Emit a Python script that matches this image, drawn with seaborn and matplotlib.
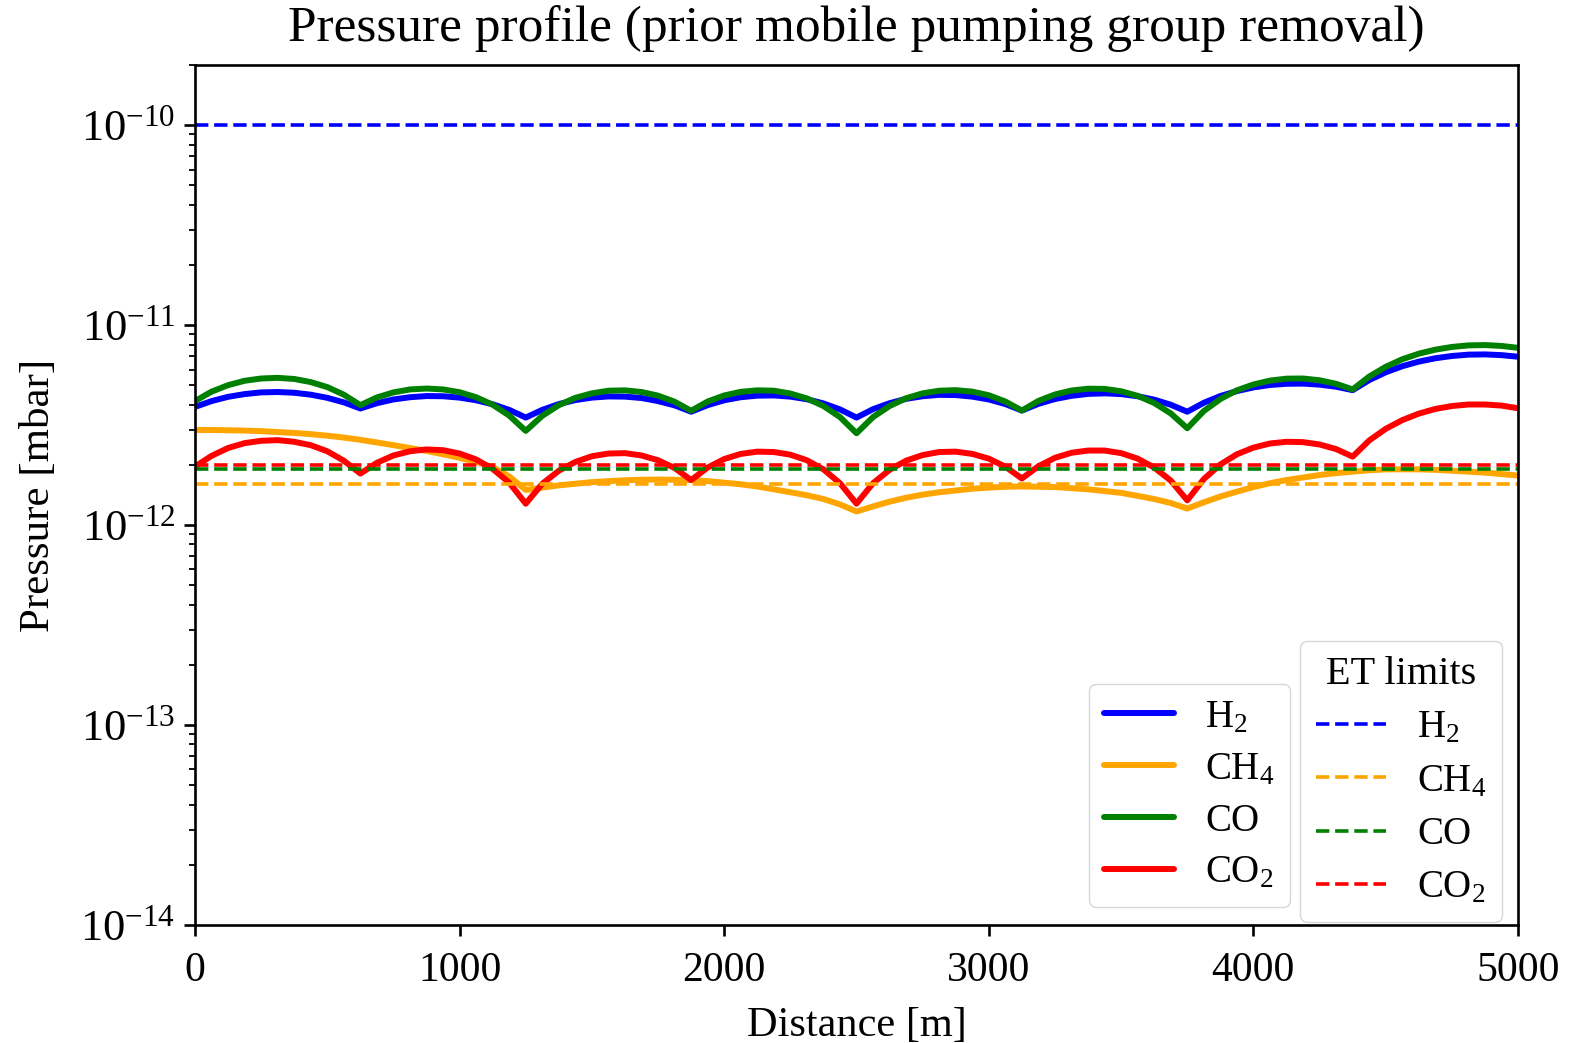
import numpy as np
import pandas as pd
import matplotlib
matplotlib.use("Agg")
import matplotlib.pyplot as plt
import seaborn as sns

# sampled every 62.5 m, pressures in units of 1e-12 mbar
distance = np.arange(0, 5000.1, 62.5)

h2 = [3.90, 4.17, 4.38, 4.52, 4.61, 4.63, 4.59, 4.49, 4.33, 4.11, 3.83,
      4.07, 4.25, 4.36, 4.42, 4.41, 4.34, 4.21, 4.02, 3.77, 3.45,
      3.77, 4.03, 4.22, 4.34, 4.40, 4.39, 4.32, 4.17, 3.97, 3.69,
      3.98, 4.21, 4.36, 4.44, 4.45, 4.39, 4.26, 4.06, 3.79, 3.45,
      3.80, 4.07, 4.28, 4.41, 4.48, 4.47, 4.39, 4.25, 4.03, 3.74,
      4.04, 4.27, 4.43, 4.53, 4.56, 4.52, 4.41, 4.24, 4.00, 3.69,
      4.09, 4.42, 4.68, 4.88, 5.02, 5.09, 5.10, 5.04, 4.92, 4.73,
      5.31, 5.81, 6.23, 6.57, 6.83, 7.01, 7.12, 7.14, 7.08, 6.95]

ch4 = [2.99, 2.99, 2.98, 2.97, 2.95, 2.92, 2.89, 2.85, 2.80, 2.74, 2.67,
       2.59, 2.51, 2.43, 2.35, 2.26, 2.17, 2.07, 1.95, 1.75, 1.50,
       1.54, 1.58, 1.61, 1.64, 1.66, 1.675, 1.685, 1.69, 1.685, 1.68,
       1.66, 1.63, 1.60, 1.56, 1.51, 1.46, 1.41, 1.35, 1.27, 1.17,
       1.24, 1.31, 1.37, 1.42, 1.46, 1.49, 1.52, 1.54, 1.555, 1.56,
       1.555, 1.55, 1.53, 1.51, 1.48, 1.45, 1.40, 1.35, 1.29, 1.21,
       1.30, 1.39, 1.47, 1.55, 1.62, 1.68, 1.73, 1.78, 1.82, 1.85,
       1.88, 1.90, 1.90, 1.90, 1.89, 1.87, 1.85, 1.83, 1.80, 1.77]

co = [4.17, 4.65, 5.01, 5.27, 5.41, 5.45, 5.38, 5.19, 4.90, 4.49, 3.98,
      4.35, 4.61, 4.77, 4.82, 4.77, 4.62, 4.36, 4.00, 3.53, 2.96,
      3.52, 3.98, 4.33, 4.56, 4.70, 4.72, 4.63, 4.44, 4.14, 3.73,
      4.15, 4.45, 4.64, 4.72, 4.70, 4.55, 4.30, 3.94, 3.47, 2.88,
      3.47, 3.94, 4.31, 4.56, 4.70, 4.73, 4.65, 4.46, 4.15, 3.74,
      4.18, 4.50, 4.71, 4.81, 4.80, 4.67, 4.43, 4.08, 3.62, 3.05,
      3.72, 4.27, 4.72, 5.05, 5.28, 5.40, 5.41, 5.30, 5.09, 4.77,
      5.53, 6.19, 6.75, 7.20, 7.54, 7.78, 7.92, 7.95, 7.87, 7.70]

co2 = [1.96, 2.22, 2.43, 2.57, 2.64, 2.66, 2.61, 2.51, 2.34, 2.10, 1.81,
       2.05, 2.23, 2.34, 2.39, 2.37, 2.28, 2.13, 1.91, 1.63, 1.28,
       1.61, 1.87, 2.07, 2.21, 2.28, 2.29, 2.23, 2.11, 1.93, 1.68,
       1.94, 2.14, 2.27, 2.33, 2.32, 2.25, 2.11, 1.90, 1.62, 1.28,
       1.62, 1.89, 2.10, 2.24, 2.32, 2.33, 2.27, 2.15, 1.96, 1.71,
       1.97, 2.17, 2.30, 2.36, 2.36, 2.29, 2.15, 1.94, 1.67, 1.33,
       1.70, 2.01, 2.26, 2.44, 2.56, 2.61, 2.60, 2.53, 2.40, 2.20,
       2.65, 3.03, 3.35, 3.61, 3.81, 3.94, 4.01, 4.01, 3.96, 3.84]

gases = ["$\\mathrm{H_2}$", "$\\mathrm{CH_4}$", "CO", "$\\mathrm{CO_2}$"]
colors = ["blue", "orange", "green", "red"]
# ET limits in mbar
et_limits = [1e-10, 1.6e-12, 1.9e-12, 2.0e-12]

df = pd.DataFrame({
    "distance": np.tile(distance, 4),
    "pressure": np.concatenate([h2, ch4, co, co2]) * 1e-12,
    "gas": np.repeat(gases, len(distance)),
})

sns.set_style("ticks")
plt.rcParams["font.family"] = ["Liberation Serif", "DejaVu Serif"]
plt.rcParams["mathtext.fontset"] = "custom"
plt.rcParams["mathtext.rm"] = "Liberation Serif"
plt.rcParams["mathtext.it"] = "Liberation Serif:italic"
plt.rcParams["axes.linewidth"] = 1.9
for k in ["text.color", "axes.labelcolor", "xtick.color", "ytick.color", "axes.edgecolor"]:
    plt.rcParams[k] = "black"

fig = plt.figure(figsize=(15.7, 10.43), dpi=100)
ax = fig.add_axes([0.1242, 0.1131, 0.8427, 0.8246])

sns.lineplot(data=df, x="distance", y="pressure", hue="gas",
             palette=dict(zip(gases, colors)), linewidth=4.3, ax=ax, legend=False)
solid = ax.get_lines()[:4]

dashed = []
for lim, c in zip(et_limits, colors):
    dashed.append(ax.axhline(lim, color=c, ls="--", lw=2.6))

ax.set_yscale("log")
ax.set_xlim(0, 5000)
ax.set_ylim(1e-14, 2e-10)
ax.set_xticks([0, 1000, 2000, 3000, 4000, 5000])
ax.set_yticks([1e-14, 1e-13, 1e-12, 1e-11, 1e-10])
ax.tick_params(which="major", length=8, width=1.9, labelsize=30, pad=6)
ax.tick_params(axis="x", which="major", pad=11)
ax.tick_params(axis="y", which="major", labelsize=32)
ax.tick_params(which="minor", length=4.5, width=1.3)

ax.set_title("Pressure profile (prior mobile pumping group removal)", fontsize=37, pad=17)
ax.set_xlabel("Distance [m]", fontsize=30.5, labelpad=12)
ax.set_ylabel("Pressure [mbar]", fontsize=31, labelpad=16)

leg1 = ax.legend(solid, gases, loc="lower right", bbox_to_anchor=(0.828, 0.021),
                 borderaxespad=0, fontsize=28, labelspacing=0.38, handlelength=1.8)
ax.add_artist(leg1)
ax.legend(dashed, gases, title="ET limits", loc="lower right",
          bbox_to_anchor=(0.988, 0.0035), borderaxespad=0, fontsize=28,
          title_fontsize=29, labelspacing=0.42, handlelength=1.8)

fig.savefig("out.png", dpi=100)
